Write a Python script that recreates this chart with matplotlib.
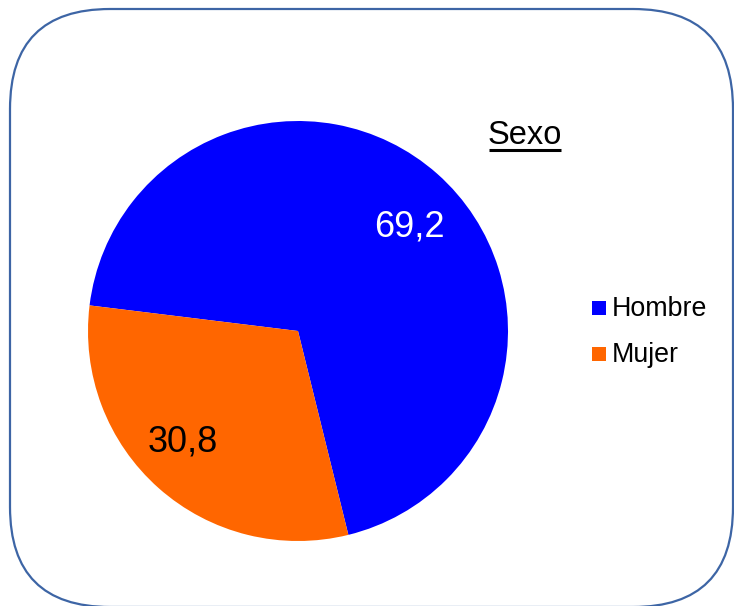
import matplotlib
matplotlib.use("Agg")
import matplotlib.pyplot as plt
from matplotlib.patches import FancyBboxPatch, Rectangle

plt.rcParams['font.family'] = ['Liberation Sans', 'DejaVu Sans']

title = "Sexo"
categories = ["Hombre", "Mujer"]
values = [69.2, 30.8]
value_labels = ["69,2", "30,8"]

colors = ["#0000FF", "#FF6600"]
label_colors = ["white", "black"]

W, H = 734, 606
fig = plt.figure(figsize=(W / 100, H / 100), dpi=100)
ax = fig.add_axes([0, 0, 1, 1])
ax.set_xlim(0, W)
ax.set_ylim(0, H)
ax.axis('off')

def Y(y):
    return H - y

# rounded border
box = FancyBboxPatch((10, Y(607)), 723, 598,
                     boxstyle="round,pad=0,rounding_size=100",
                     facecolor="white", edgecolor="#3D65A5", linewidth=1.6,
                     zorder=0)
ax.add_patch(box)

cx, cy, r = 298, Y(331), 210
wedges, _ = ax.pie(values, colors=colors, startangle=173, counterclock=False,
                   center=(cx, cy), radius=r, frame=True,
                   wedgeprops=dict(linewidth=0))
ax.set_xlim(0, W)
ax.set_ylim(0, H)
ax.set_aspect('auto')
ax.axis('off')

label_pos = [(409, 227), (183, 442)]
for lab, (x, y), c in zip(value_labels, label_pos, label_colors):
    ax.text(x, Y(y), lab, color=c, fontsize=26, ha='center', va='center')

# title with underline
ax.text(525, Y(136), title, fontsize=23.5, ha='center', va='center', color='black')
ax.plot([489, 561], [Y(149.5), Y(149.5)], color='black', linewidth=2.2,
        solid_capstyle='butt')

# legend
leg_y = [308, 354]
for cat, col, y in zip(categories, colors, leg_y):
    ax.add_patch(Rectangle((592, Y(y) - 7), 14, 14, facecolor=col,
                           edgecolor='none'))
    ax.text(612, Y(y + 1.5), cat, fontsize=19.3, ha='left', va='center',
            color='black')

fig.savefig("out.png", dpi=100)
